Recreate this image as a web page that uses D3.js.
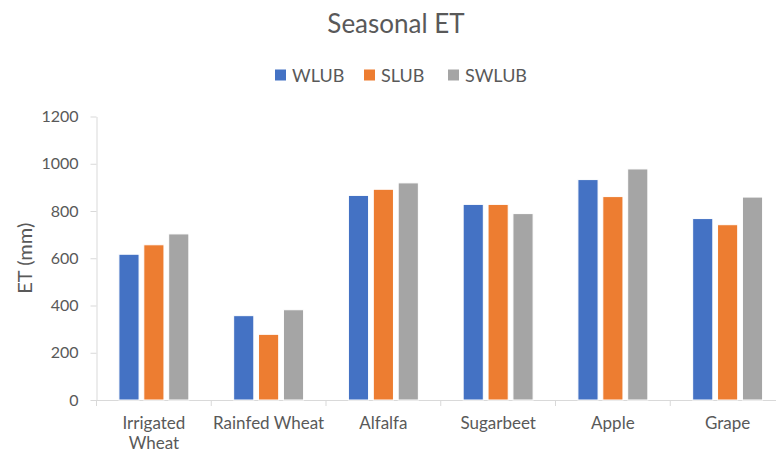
<!DOCTYPE html>
<html lang="en">
  <head>
    <meta charset="utf-8">
    <title>Seasonal ET</title>
    <script src="https://cdnjs.cloudflare.com/ajax/libs/d3/7.8.5/d3.min.js"></script>
    <style>
      body {
        margin: 0;
        background: #fff;
      }
      * {
        font-family: Lato, "Open Sans", sans-serif;
      }
      .axis path,
      .axis line {
        stroke: #d9d9d9;
      }
      .axis text {
        fill: #595959;
      }
      .y-axis text {
        font-size: 16px;
      }
      .x-axis text {
        font-size: 17px;
      }
    </style>
  </head>
  <body>
    <div id="vis"></div>
<script>
    // chart values
    var categories = ['Irrigated Wheat', 'Rainfed Wheat', 'Alfalfa', 'Sugarbeet', 'Apple', 'Grape'];
    var seriesNames = ['WLUB', 'SLUB', 'SWLUB'];
    var wlub = [617, 357, 866, 828, 933, 768];
    var slub = [657, 278, 892, 828, 861, 742];
    var swlub = [703, 382, 919, 789, 978, 859];
    var yTicks = [0, 200, 400, 600, 800, 1000, 1200];
    var colors = ['#4472c4', '#ed7d31', '#a5a5a5'];

    var width = 776;
    var height = 452;

    var margin = {
        top: 116.5,
        bottom: 52,
        left: 96.5,
        right: -9
    };

    var svg = d3.select('#vis')
        .append('svg')
        .attr('width', width)
        .attr('height', height);

    var g = svg.append('g')
        .attr('transform', 'translate(' + margin.left + ',' + margin.top + ')');

    var w = width - margin.left - margin.right;
    var h = height - margin.top - margin.bottom;

    var x_scale = d3.scaleBand()
        .domain(categories)
        .range([0, w]);

    var inner_scale = d3.scaleBand()
        .domain(seriesNames)
        .range([0, x_scale.bandwidth()])
        .paddingInner(0.19)
        .paddingOuter(0.9);

    var y_scale = d3.scaleLinear()
        .domain([0, 1200])
        .range([h, 0]);

    var data = categories.map(function(c, i) {
        return {
            cat: c,
            values: [wlub[i], slub[i], swlub[i]]
        };
    });

    // title
    svg.append('text')
        .attr('x', 396)
        .attr('y', 33)
        .attr('text-anchor', 'middle')
        .attr('fill', '#595959')
        .style('font-size', '26px')
        .text('Seasonal ET');

    // legend
    var legendX = [275, 364, 448];
    var legend = svg.selectAll('.legend')
        .data(seriesNames)
        .enter()
        .append('g')
        .attr('class', 'legend')
        .attr('transform', function(d, i) {
            return 'translate(' + legendX[i] + ',75)';
        });

    legend.append('rect')
        .attr('x', 0)
        .attr('y', -5.5)
        .attr('width', 11)
        .attr('height', 11)
        .attr('fill', function(d, i) { return colors[i]; });

    legend.append('text')
        .attr('x', 17)
        .attr('y', 6.5)
        .attr('fill', '#595959')
        .style('font-size', '18px')
        .text(function(d) { return d; });

    // axes
    var y_axis = d3.axisLeft(y_scale)
        .tickValues(yTicks)
        .tickFormat(d3.format('d'))
        .tickSize(6)
        .tickPadding(12)
        .tickSizeOuter(0);

    g.append('g')
        .attr('class', 'axis y-axis')
        .call(y_axis);

    var x_axis = d3.axisBottom(x_scale)
        .tickSize(0)
        .tickPadding(17)
        .tickSizeOuter(0);

    var xg = g.append('g')
        .attr('class', 'axis x-axis')
        .attr('transform', 'translate(0,' + h + ')')
        .call(x_axis);

    // boundary ticks between categories
    xg.selectAll('.bound')
        .data(categories.concat(['end']))
        .enter()
        .append('line')
        .attr('class', 'bound')
        .attr('x1', function(d, i) { return i * x_scale.step(); })
        .attr('x2', function(d, i) { return i * x_scale.step(); })
        .attr('y1', 0)
        .attr('y2', 6);

    xg.selectAll('.tick text').call(wrap, x_scale.step());

    // y axis title
    svg.append('text')
        .attr('transform', 'translate(31.5,' + (margin.top + h / 2) + ') rotate(-90)')
        .attr('text-anchor', 'middle')
        .attr('fill', '#595959')
        .style('font-size', '20px')
        .text('ET (mm)');

    // bars
    var groups = g.selectAll('.group')
        .data(data)
        .enter()
        .append('g')
        .attr('class', 'group')
        .attr('transform', function(d) {
            return 'translate(' + x_scale(d.cat) + ',0)';
        });

    groups.selectAll('.bar')
        .data(function(d) {
            return d.values.map(function(v, i) {
                return { key: seriesNames[i], value: v, i: i };
            });
        })
        .enter()
        .append('rect')
        .attr('class', 'bar')
        .attr('x', function(d) { return inner_scale(d.key); })
        .attr('width', inner_scale.bandwidth())
        .attr('y', function(d) { return y_scale(d.value); })
        .attr('height', function(d) { return h - y_scale(d.value); })
        .attr('fill', function(d) { return colors[d.i]; })
        .attr('stroke', '#fff')
        .attr('stroke-width', 1);

    function wrap(text, maxWidth) {
        text.each(function() {
            var t = d3.select(this);
            var words = t.text().split(/\s+/);
            var y = t.attr('y');
            var dy = parseFloat(t.attr('dy'));
            if (this.getComputedTextLength() <= maxWidth) return;
            t.text(null);
            var line = [];
            var lineNumber = 0;
            var tspan = t.append('tspan').attr('x', 0).attr('y', y).attr('dy', dy + 'em');
            words.forEach(function(word) {
                line.push(word);
                tspan.text(line.join(' '));
                if (tspan.node().getComputedTextLength() > maxWidth && line.length > 1) {
                    line.pop();
                    tspan.text(line.join(' '));
                    line = [word];
                    lineNumber++;
                    tspan = t.append('tspan')
                        .attr('x', 0)
                        .attr('y', y)
                        .attr('dy', (lineNumber * 1.18 + dy) + 'em')
                        .text(word);
                }
            });
        });
    }
</script>
  </body>
</html>
